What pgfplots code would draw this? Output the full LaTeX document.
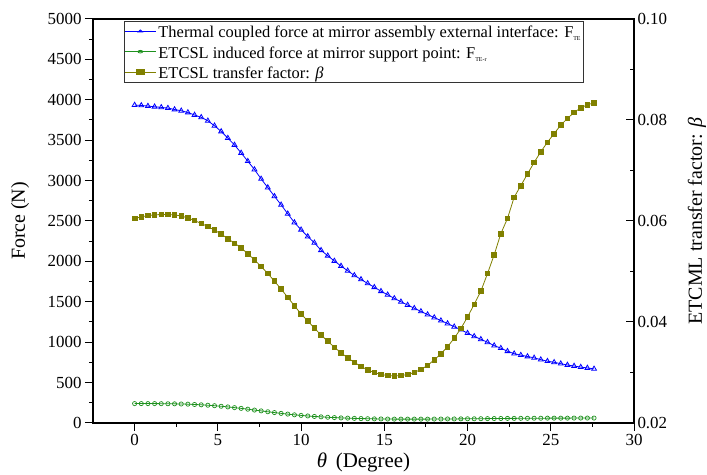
\documentclass[border=0pt]{standalone}
\usepackage{fontspec}
\setmainfont{Liberation Serif}
\usepackage{pgfplots}
\usepackage{pgfplotstable}
\pgfplotsset{compat=1.18}

\definecolor{fblue}{RGB}{0,0,255}
\definecolor{fgreen}{RGB}{30,145,30}
\definecolor{folive}{RGB}{128,128,0}

% theta  F_TE  F_TE-r  beta
\pgfplotstableread{
x F Fr beta
0.0 3935 240 0.0605
0.4 3930 240 0.0608
0.8 3922 240 0.0611
1.2 3914 240 0.0612
1.6 3906 239 0.0613
2.0 3897 238 0.0613
2.4 3880 237 0.0612
2.8 3864 235 0.0610
3.2 3843 233 0.0606
3.6 3812 229 0.0601
4.0 3783 225 0.0595
4.4 3740 220 0.0589
4.8 3678 214 0.0582
5.2 3608 207 0.0574
5.6 3526 199 0.0565
6.0 3441 190 0.0556
6.4 3342 181 0.0547
6.8 3240 171 0.0535
7.2 3137 160 0.0523
7.6 3021 150 0.0510
8.0 2914 139 0.0496
8.4 2806 129 0.0481
8.8 2700 119 0.0465
9.2 2589 110 0.0449
9.6 2481 101 0.0432
10.0 2392 94 0.0416
10.4 2308 87 0.0402
10.8 2230 81 0.0388
11.2 2138 76 0.0374
11.6 2070 71 0.0362
12.0 2005 67 0.0350
12.4 1943 63 0.0339
12.8 1884 60 0.0329
13.2 1827 57 0.0320
13.6 1777 55 0.0312
14.0 1727 53 0.0305
14.4 1680 51 0.0300
14.8 1631 50 0.0296
15.2 1587 49 0.0294
15.6 1542 48 0.0293
16.0 1500 48 0.0294
16.4 1460 48 0.0296
16.8 1420 48 0.0300
17.2 1381 48 0.0306
17.6 1342 48 0.0314
18.0 1305 49 0.0325
18.4 1267 49 0.0337
18.8 1231 50 0.0351
19.2 1191 50 0.0368
19.6 1155 51 0.0387
20.0 1112 52 0.0410
20.4 1072 52 0.0435
20.8 1036 53 0.0461
21.2 999 54 0.0496
21.6 958 55 0.0533
22.0 926 56 0.0575
22.4 888 57 0.0605
22.8 858 57 0.0647
23.2 840 58 0.0670
23.6 823 58 0.0693
24.0 806 59 0.0716
24.4 784 59 0.0737
24.8 765 60 0.0756
25.2 751 60 0.0773
25.6 734 60 0.0790
26.0 718 60 0.0803
26.4 705 61 0.0815
26.8 692 61 0.0824
27.2 681 61 0.0830
27.6 670 61 0.0834
}\datatable

\pgfplotsset{
  common/.style={
    scale only axis, width=541bp, height=404bp,
    xmin=-2.5, xmax=30,
    major tick length=8bp, minor tick length=4bp,
    every tick/.style={black, line width=1bp},
    axis line style={line width=1.2bp},
    /pgf/number format/assume math mode=true,
    ticklabel style={font=\rmfamily\fontsize{17}{17}\selectfont},
    label style={font=\rmfamily\fontsize{20}{22}\selectfont},
  },
}
\newcommand{\legstrut}{\rule[-7bp]{0pt}{22bp}}

\begin{document}
\begin{tikzpicture}
\begin{axis}[
  common, name=ax,
  tick align=outside,
  ymin=0, ymax=5000,
  xtick={0,5,...,30}, minor x tick num=1,
  ytick={0,500,...,5000}, minor y tick num=1,
  xtick pos=bottom, ytick pos=left,
  /pgf/number format/set thousands separator={},
  xlabel={\fontsize{21}{22}\selectfont\textit{θ}\, (Degree)},
  xlabel style={at={(axis description cs:0.5,0)}, yshift=-39bp, anchor=center},
  ylabel={Force (N)},
  ylabel style={at={(axis description cs:0,0.5)}, yshift=73bp, anchor=center},
]
\addplot[fblue, line width=0.8bp, mark=triangle, mark size=2.8bp, mark options={line width=0.8bp}]
  table[x=x, y=F] {\datatable};
\addplot[fgreen, line width=0.8bp, mark=o, mark size=2.1bp, mark options={line width=0.7bp}]
  table[x=x, y=Fr] {\datatable};
\end{axis}
\begin{axis}[
  common,
  tick align=inside,
  ymin=0.02, ymax=0.10,
  axis x line=none, axis y line*=right,
  ytick={0.02,0.04,...,0.10}, minor y tick num=1,
  yticklabel style={/pgf/number format/fixed, /pgf/number format/fixed zerofill, /pgf/number format/precision=2},
  ylabel={ETCML transfer factor: \textit{β}},
  ylabel style={at={(axis description cs:1,0.5)}, yshift=-63bp, anchor=center},
  legend image post style={xscale=1.85},
  legend cell align=left,
  legend style={at={(0.057,0.996)}, anchor=north west, draw=black!80, line width=0.7bp,
    font=\rmfamily\fontsize{16.5}{18}\selectfont, inner xsep=0bp, inner ysep=0bp},
]
\addlegendimage{fblue, line width=0.8bp, mark=triangle, mark size=1.3bp}
\addlegendentry{\legstrut Thermal coupled force at mirror assembly external interface: F\textsubscript{\fontsize{6}{6}\selectfont TE}}
\addlegendimage{fgreen, line width=0.8bp, mark=o, mark size=1.3bp}
\addlegendentry{\legstrut ETCSL induced force at mirror support point: F\textsubscript{\fontsize{6}{6}\selectfont TE-r}}
\addplot[folive, line width=0.8bp, mark=square*, mark size=2.3bp]
  table[x=x, y=beta] {\datatable};
\addlegendentry{\legstrut ETCSL transfer factor: \textit{β}}
\end{axis}
\pgfresetboundingbox
\path ([shift={(-93bp,-52bp)}]ax.south west) rectangle ([shift={(73bp,19bp)}]ax.north east);
\end{tikzpicture}
\end{document}
